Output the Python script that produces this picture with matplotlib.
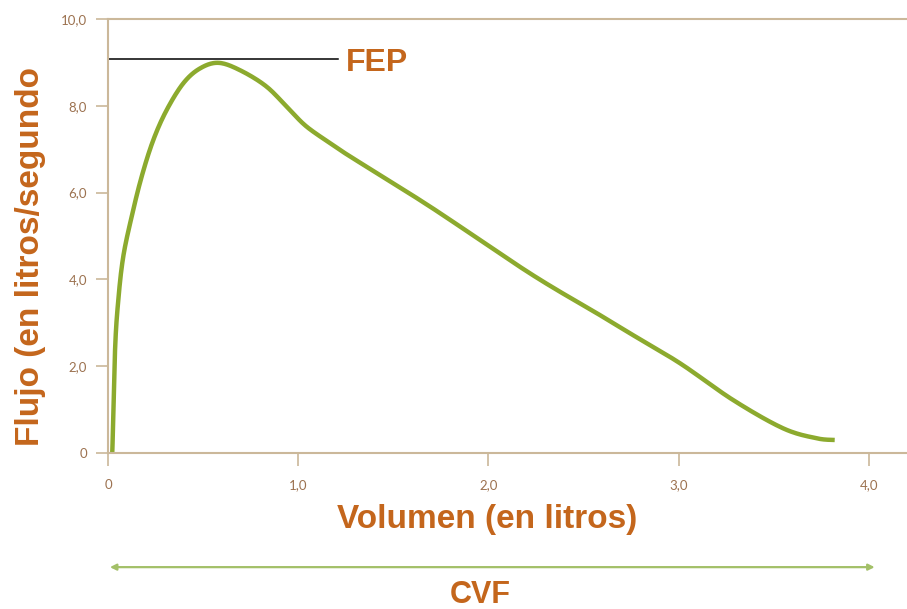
import numpy as np
import matplotlib
matplotlib.use('Agg')
import matplotlib.pyplot as plt

# flow-volume curve
volumen = [0.02, 0.023, 0.037, 0.054, 0.08, 0.124, 0.177, 0.238, 0.308, 0.396,
           0.483, 0.58, 0.694, 0.834, 0.956, 1.044, 1.167, 1.27, 1.692, 2.218,
           2.585, 2.743, 3.006, 3.286, 3.548, 3.724, 3.82]
flujo = [0.0, 0.07, 2.37, 3.52, 4.52, 5.44, 6.37, 7.21, 7.90, 8.52,
         8.86, 8.99, 8.82, 8.44, 7.90, 7.52, 7.14, 6.84, 5.68, 4.14,
         3.18, 2.76, 2.07, 1.22, 0.57, 0.34, 0.30]

fep_level = 9.08
fep_line_x = [0, 1.21]
cvf_range = [0.01, 4.03]

x_ticks = [0, 1, 2, 3, 4]
x_labels = ['0', '1,0', '2,0', '3,0', '4,0']
y_ticks = [0, 2, 4, 6, 8, 10]
y_labels = ['0', '2,0', '4,0', '6,0', '8,0', '10,0']

axis_col = '#cbb89a'
tick_col = '#9c7250'
label_col = '#c4661c'
curve_col = '#8caa2e'
arrow_col = '#a3c068'


def catmull_rom(x, y, n=20):
    # smooth curve through the read points
    p = np.column_stack([x, y])
    p = np.vstack([p[0], p, p[-1]])
    out = []
    for i in range(1, len(p) - 2):
        p0, p1, p2, p3 = p[i - 1], p[i], p[i + 1], p[i + 2]
        t = np.linspace(0, 1, n, endpoint=False)[:, None]
        seg = 0.5 * ((2 * p1) + (-p0 + p2) * t
                     + (2 * p0 - 5 * p1 + 4 * p2 - p3) * t ** 2
                     + (-p0 + 3 * p1 - 3 * p2 + p3) * t ** 3)
        out.append(seg)
    out.append(p[-2][None, :])
    out = np.vstack(out)
    return out[:, 0], out[:, 1]


fig = plt.figure(figsize=(9.07, 6.09), dpi=100)
ax = fig.add_axes([108/907, 1 - 453/609, 1 - 108/907, (453 - 19)/609])

xs, ys = catmull_rom(volumen, flujo)
ax.plot(xs, ys, color=curve_col, lw=3.2, solid_capstyle='butt')

ax.plot(fep_line_x, [fep_level, fep_level], color='black', lw=1.1)
ax.text(1.25, fep_level - 0.1, 'FEP', color=label_col, fontsize=23,
        fontweight='bold', family='Liberation Sans', va='center', ha='left')

ax.set_xlim(0, 4.2)
ax.set_ylim(0, 10)
ax.set_xticks(x_ticks)
ax.set_xticklabels(x_labels)
ax.set_yticks(y_ticks)
ax.set_yticklabels(y_labels)

for s in ['top', 'left', 'bottom']:
    ax.spines[s].set_color(axis_col)
    ax.spines[s].set_linewidth(1.5)
ax.spines['right'].set_visible(False)

ax.tick_params(axis='both', colors=axis_col, labelcolor=tick_col, labelsize=9.5,
               length=9, width=1.2, direction='out', pad=10)
ax.tick_params(axis='y', pad=6)
for lab in ax.get_xticklabels() + ax.get_yticklabels():
    lab.set_family('Lato')

ax.text(0.475, -0.154, 'Volumen (en litros)', transform=ax.transAxes,
        color=label_col, fontsize=24, fontweight='bold', family='Liberation Sans',
        ha='center', va='center')
ax.text(-0.0976, 0.452, 'Flujo (en litros/segundo', transform=ax.transAxes,
        color=label_col, fontsize=24, fontweight='bold', family='Liberation Sans',
        ha='center', va='center', rotation=90)

# CVF arrow below the axis
tr = ax.get_xaxis_transform()
ax.annotate('', xy=(cvf_range[0], -0.263), xytext=(cvf_range[1], -0.263),
            xycoords=tr, textcoords=tr, annotation_clip=False,
            arrowprops=dict(arrowstyle='<|-|>', color=arrow_col, lw=1.6,
                            mutation_scale=9, shrinkA=0, shrinkB=0))
ax.text(1.955, -0.327, 'CVF', transform=tr, color=label_col, fontsize=22,
        fontweight='bold', family='Liberation Sans', ha='center', va='center')

fig.savefig('out.png', dpi=100)
